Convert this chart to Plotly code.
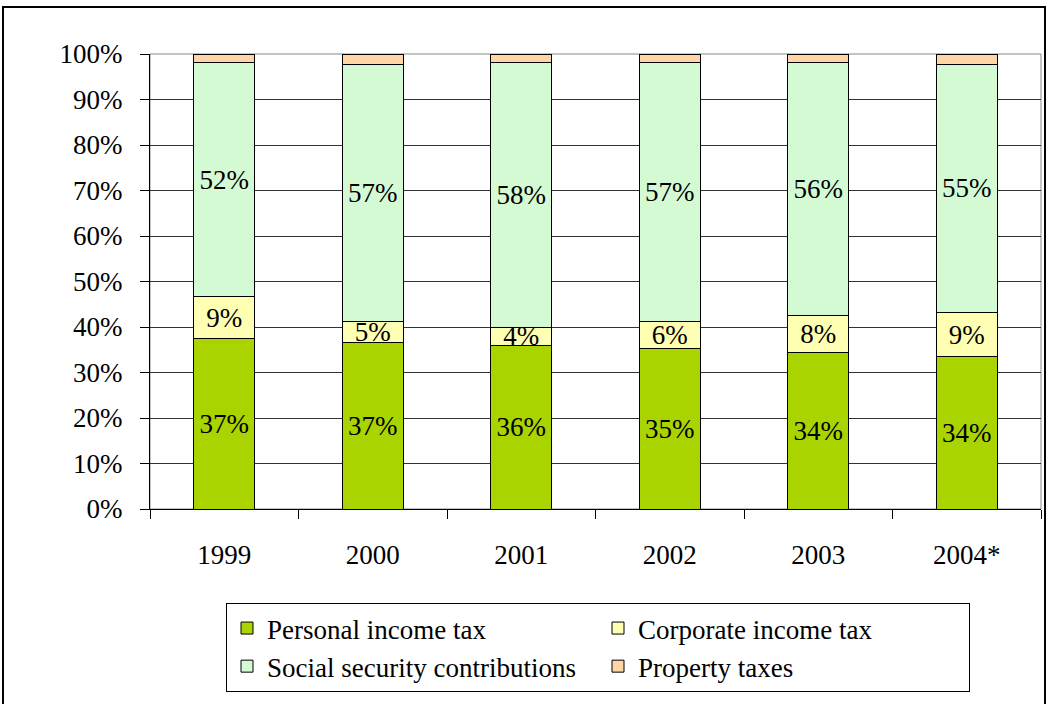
import plotly.graph_objects as go

years = ["1999", "2000", "2001", "2002", "2003", "2004*"]
personal = [37.4, 36.7, 36.0, 35.2, 34.3, 33.6]
corporate = [9.2, 4.6, 4.0, 6.1, 8.3, 9.5]
social = [51.6, 56.5, 58.2, 56.9, 55.6, 54.7]
prop = [1.8, 2.2, 1.8, 1.8, 1.8, 2.2]

personal_lbl = ["37%", "37%", "36%", "35%", "34%", "34%"]
corporate_lbl = ["9%", "5%", "4%", "6%", "8%", "9%"]
social_lbl = ["52%", "57%", "58%", "57%", "56%", "55%"]

FONT = "Liberation Serif"
FS = 27

series = [
    ("Personal income tax", personal, personal_lbl, "#AAD400"),
    ("Corporate income tax", corporate, corporate_lbl, "#FFFFB3"),
    ("Social security contributions", social, social_lbl, "#D4FAD4"),
    ("Property taxes", prop, None, "#FFD5A5"),
]

fig = go.Figure()
for name, vals, lbl, col in series:
    fig.add_trace(go.Bar(
        x=years, y=vals, name=name,
        marker=dict(color=col, line=dict(color="black", width=1)),
        text=lbl if lbl else None,
        textposition="inside" if lbl else "none",
        insidetextanchor="middle",
        textangle=0,
        constraintext="none",
        textfont=dict(family=FONT, size=FS, color="black"),
        hoverinfo="name+y",
    ))

fig.update_layout(
    barmode="stack",
    bargap=0.59,
    width=1048, height=704,
    margin=dict(l=150, r=7, t=54, b=195),
    paper_bgcolor="white", plot_bgcolor="white",
    font=dict(family=FONT, size=FS, color="black"),
    xaxis=dict(
        showline=True, linecolor="black", linewidth=1,
        ticks="outside", ticklen=9, tickcolor="black", tickson="boundaries",
        ticklabelstandoff=22,
        tickfont=dict(family=FONT, size=FS, color="black"),
        showgrid=False,
    ),
    yaxis=dict(
        range=[0, 100],
        tickvals=[0, 10, 20, 30, 40, 50, 60, 70, 80, 90, 100],
        ticktext=["0%", "10%", "20%", "30%", "40%", "50%", "60%", "70%", "80%", "90%", "100%"],
        showline=True, linecolor="black", linewidth=1,
        ticks="outside", ticklen=9, tickcolor="black",
        ticklabelstandoff=12,
        showgrid=True, gridcolor="#333333", gridwidth=1,
        zeroline=False,
        tickfont=dict(family=FONT, size=FS, color="black"),
    ),
    legend=dict(
        orientation="h",
        x=0.0853, y=-0.2066, xanchor="left", yanchor="top",
        entrywidth=326, entrywidthmode="pixels",
        bordercolor="black", borderwidth=1,
        font=dict(family=FONT, size=FS, color="black"),
        traceorder="normal",
    ),
    shapes=[
        dict(type="rect", xref="paper", yref="paper", x0=0, x1=1, y0=0, y1=1,
             line=dict(color="#888888", width=1), layer="below"),
        dict(type="rect", xref="paper", yref="paper", x0=-0.165, x1=1.0045, y0=-0.45, y1=1.1033,
             line=dict(color="black", width=2), layer="above"),
    ],
)

fig.write_html("out.html")
